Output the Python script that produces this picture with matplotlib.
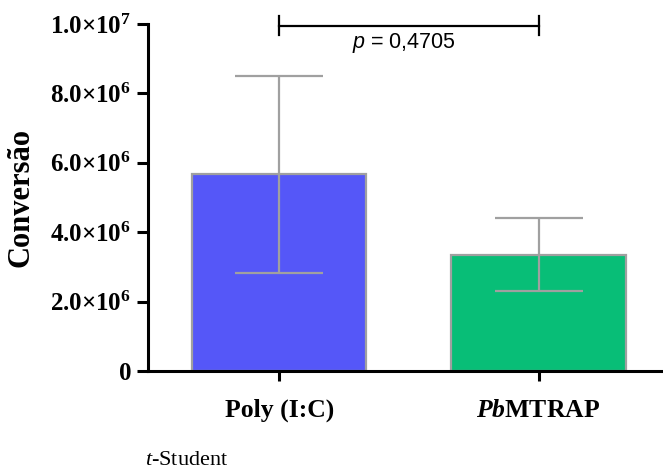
import matplotlib
matplotlib.use("Agg")
import matplotlib.pyplot as plt

categories = ["Poly (I:C)", "PbMTRAP"]
means = [5.67e6, 3.35e6]
sds = [2.835e6, 1.055e6]
colors = ["#5557F8", "#08BE77"]
yticks = [0, 2e6, 4e6, 6e6, 8e6, 1e7]
ytick_labels = ["0", "2.0×10$^{6}$", "4.0×10$^{6}$", "6.0×10$^{6}$", "8.0×10$^{6}$", "1.0×10$^{7}$"]
xtick_labels = ["Poly (I:C)", "$\\mathit{Pb}$MTRAP"]
p_text = "$\\mathcal{p}$ = 0,4705"
footnote = "$\\mathtt{t}$-Student"

plt.rcParams['mathtext.fontset'] = 'custom'
plt.rcParams['mathtext.rm'] = 'Liberation Serif:bold'
plt.rcParams['mathtext.it'] = 'Liberation Serif:bold:italic'
plt.rcParams['mathtext.bf'] = 'Liberation Serif:bold'
plt.rcParams['mathtext.cal'] = 'Liberation Sans:italic'
plt.rcParams['mathtext.tt'] = 'Liberation Serif:italic'

fig = plt.figure(figsize=(6.63, 4.70), dpi=100)
ax = fig.add_axes([148/663, (470-371)/470, 1 - 148/663, (371-24)/470])

x = [0, 1]
ax.bar(x, means, width=0.672, color=colors, edgecolor="#A0A0A0", linewidth=1.6, zorder=2)
ax.errorbar(x, means, yerr=sds, fmt='none', ecolor="#A0A0A0", elinewidth=1.6,
            capsize=32, capthick=1.6, zorder=3)

ax.set_xlim(-0.506, 1.48)
ax.set_ylim(0, 1e7)
ax.set_yticks(yticks)
ax.set_yticklabels(ytick_labels, fontfamily="Liberation Serif", fontweight="bold", fontsize=18)
ax.set_xticks(x)
ax.set_xticklabels(xtick_labels, fontfamily="Liberation Serif", fontweight="bold", fontsize=18.5)
ax.tick_params(axis='y', length=8, width=2.2, pad=4)
ax.tick_params(axis='x', length=7, width=2.2, pad=13)
for s in ["top", "right"]:
    ax.spines[s].set_visible(False)
for s in ["left", "bottom"]:
    ax.spines[s].set_linewidth(2.2)

ax.set_ylabel("Conversão", fontfamily="Liberation Serif", fontweight="bold", fontsize=22)
ax.yaxis.set_label_coords(-0.219, 0.5)

# significance bracket
yb = 9.95e6
ax.plot([0, 1], [yb, yb], color="black", lw=1.6, clip_on=False)
ax.plot([0, 0], [yb - 0.28e6, yb + 0.28e6], color="black", lw=1.6, clip_on=False)
ax.plot([1, 1], [yb - 0.28e6, yb + 0.28e6], color="black", lw=1.6, clip_on=False)
ax.text(0.48, 9.3e6, p_text, ha="center", va="baseline", fontsize=15.5,
        fontfamily="Liberation Sans")

fig.text(145/663, 1 - 465/470, footnote, fontsize=16, fontfamily="Liberation Serif",
         ha="left", va="baseline")

fig.savefig("out.png", dpi=100)
